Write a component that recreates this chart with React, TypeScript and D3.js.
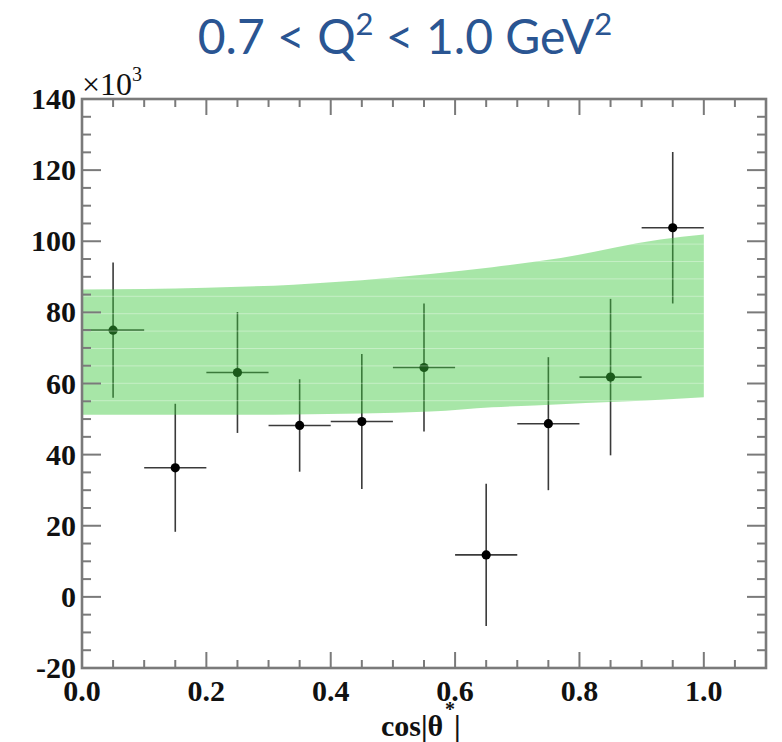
import React from 'react';
import * as d3 from 'd3';

// measured bins (cos theta*), yields in units of 10^3
const binCenters = [0.05, 0.15, 0.25, 0.35, 0.45, 0.55, 0.65, 0.75, 0.85, 0.95];
const yields = [75.0, 36.3, 63.1, 48.2, 49.3, 64.5, 11.8, 48.7, 61.8, 103.8];
const yieldErrors = [19.0, 18.0, 17.0, 13.0, 19.0, 18.0, 20.0, 18.7, 22.0, 21.3];
const binHalfWidth = 0.05;

// model band
const bandX = [0.0, 0.2, 0.34, 0.56, 0.66, 0.77, 0.93, 1.0];
const bandUpper = [86.4, 86.9, 87.8, 90.8, 92.7, 95.3, 100.5, 101.9];
const bandLower = [51.2, 51.2, 51.3, 52.1, 53.3, 54.2, 55.4, 56.1];

const xMajorTicks = [0.0, 0.2, 0.4, 0.6, 0.8, 1.0];
const yMajorTicks = [-20, 0, 20, 40, 60, 80, 100, 120, 140];

const App = () => {
  const width = 782;
  const height = 742;
  const left = 82;
  const right = 766;
  const top = 99;
  const bottom = 668;

  const x = d3.scaleLinear().domain([0, 1.1]).range([left, right]);
  const y = d3.scaleLinear().domain([-20, 140]).range([bottom, top]);

  const xMinor = x.ticks(22);
  const yMinor = y.ticks(32);

  const band = d3
    .area<number>()
    .x((d, i) => x(bandX[i]))
    .y0((d, i) => y(bandLower[i]))
    .y1((d) => y(d))
    .curve(d3.curveMonotoneX);
  const bandPath = band(bandUpper) || '';

  const axisColor = '#7a7a7a';
  const labelFont = "'Liberation Serif', 'DejaVu Serif', serif";

  return (
    <svg
      width={width}
      height={height}
      style={{ position: 'absolute', left: 0, top: 0, background: '#fff' }}
    >
      <defs>
        <clipPath id='bandClip'>
          <path d={bandPath} />
        </clipPath>
        <pattern id='stripes' width='10' height='17.4' patternUnits='userSpaceOnUse'>
          <rect x='0' y='0' width='10' height='1' fill='#fff' opacity='0.35' />
        </pattern>
      </defs>

      {/* title */}
      <text
        x={405}
        y={54}
        textAnchor='middle'
        fontFamily="Lato, 'Open Sans', sans-serif"
        fontSize={48}
        fill='#2a5592'
      >
        0.7 &lt; Q<tspan dy={-19} fontSize={31}>2</tspan>
        <tspan dy={19}> &lt; 1.0 GeV</tspan>
        <tspan dy={-19} fontSize={31}>2</tspan>
      </text>

      {/* data points */}
      <g stroke='#3a3a3a' strokeWidth={1.6}>
        {binCenters.map((c, i) => (
          <g key={i}>
            <line
              x1={x(c - binHalfWidth)}
              x2={x(c + binHalfWidth)}
              y1={y(yields[i])}
              y2={y(yields[i])}
            />
            <line
              x1={x(c)}
              x2={x(c)}
              y1={y(yields[i] - yieldErrors[i])}
              y2={y(yields[i] + yieldErrors[i])}
            />
            <circle cx={x(c)} cy={y(yields[i])} r={4.6} fill='#000' stroke='none' />
          </g>
        ))}
      </g>

      {/* model band drawn over the points */}
      <path d={bandPath} fill='rgb(60,200,60)' fillOpacity={0.45} />
      <rect
        x={left}
        y={top}
        width={right - left}
        height={bottom - top}
        fill='url(#stripes)'
        clipPath='url(#bandClip)'
      />

      {/* frame and ticks */}
      <g stroke={axisColor} strokeWidth={2}>
        {xMinor.map((t, i) => {
          const major = xMajorTicks.some((m) => Math.abs(m - t) < 1e-6);
          const len = major ? 16 : 8;
          return (
            <g key={'x' + i}>
              <line x1={x(t)} x2={x(t)} y1={bottom} y2={bottom - len} />
              <line x1={x(t)} x2={x(t)} y1={top} y2={top + len} />
            </g>
          );
        })}
        {yMinor.map((t, i) => {
          const major = t % 20 === 0;
          const len = major ? 19 : 9;
          return (
            <g key={'y' + i}>
              <line x1={left} x2={left + len} y1={y(t)} y2={y(t)} />
              <line x1={right} x2={right - len} y1={y(t)} y2={y(t)} />
            </g>
          );
        })}
      </g>
      <rect
        x={left}
        y={top}
        width={right - left}
        height={bottom - top}
        fill='none'
        stroke={axisColor}
        strokeWidth={2.6}
      />

      {/* tick labels */}
      <g fontFamily={labelFont} fontWeight='bold' fontSize={30} fill='#111'>
        {yMajorTicks.map((t) => (
          <text key={t} x={left - 6} y={y(t) + 10} textAnchor='end'>
            {t}
          </text>
        ))}
        {xMajorTicks.map((t) => (
          <text key={t} x={x(t)} y={701} textAnchor='middle'>
            {t.toFixed(1)}
          </text>
        ))}
      </g>

      {/* exponent */}
      <text x={left} y={95} fontFamily={labelFont} fontSize={32} fill='#111'>
        ×10<tspan dy={-14} fontSize={20}>3</tspan>
      </text>

      {/* x axis title */}
      <g fontFamily={labelFont} fontWeight='bold' fill='#111'>
        <text x={381} y={736} fontSize={30}>
          cos|θ
        </text>
        <text x={454} y={736} fontSize={30}>
          |
        </text>
        <text x={450} y={716} fontSize={20} textAnchor='middle'>
          *
        </text>
      </g>
    </svg>
  );
};

export default App;
